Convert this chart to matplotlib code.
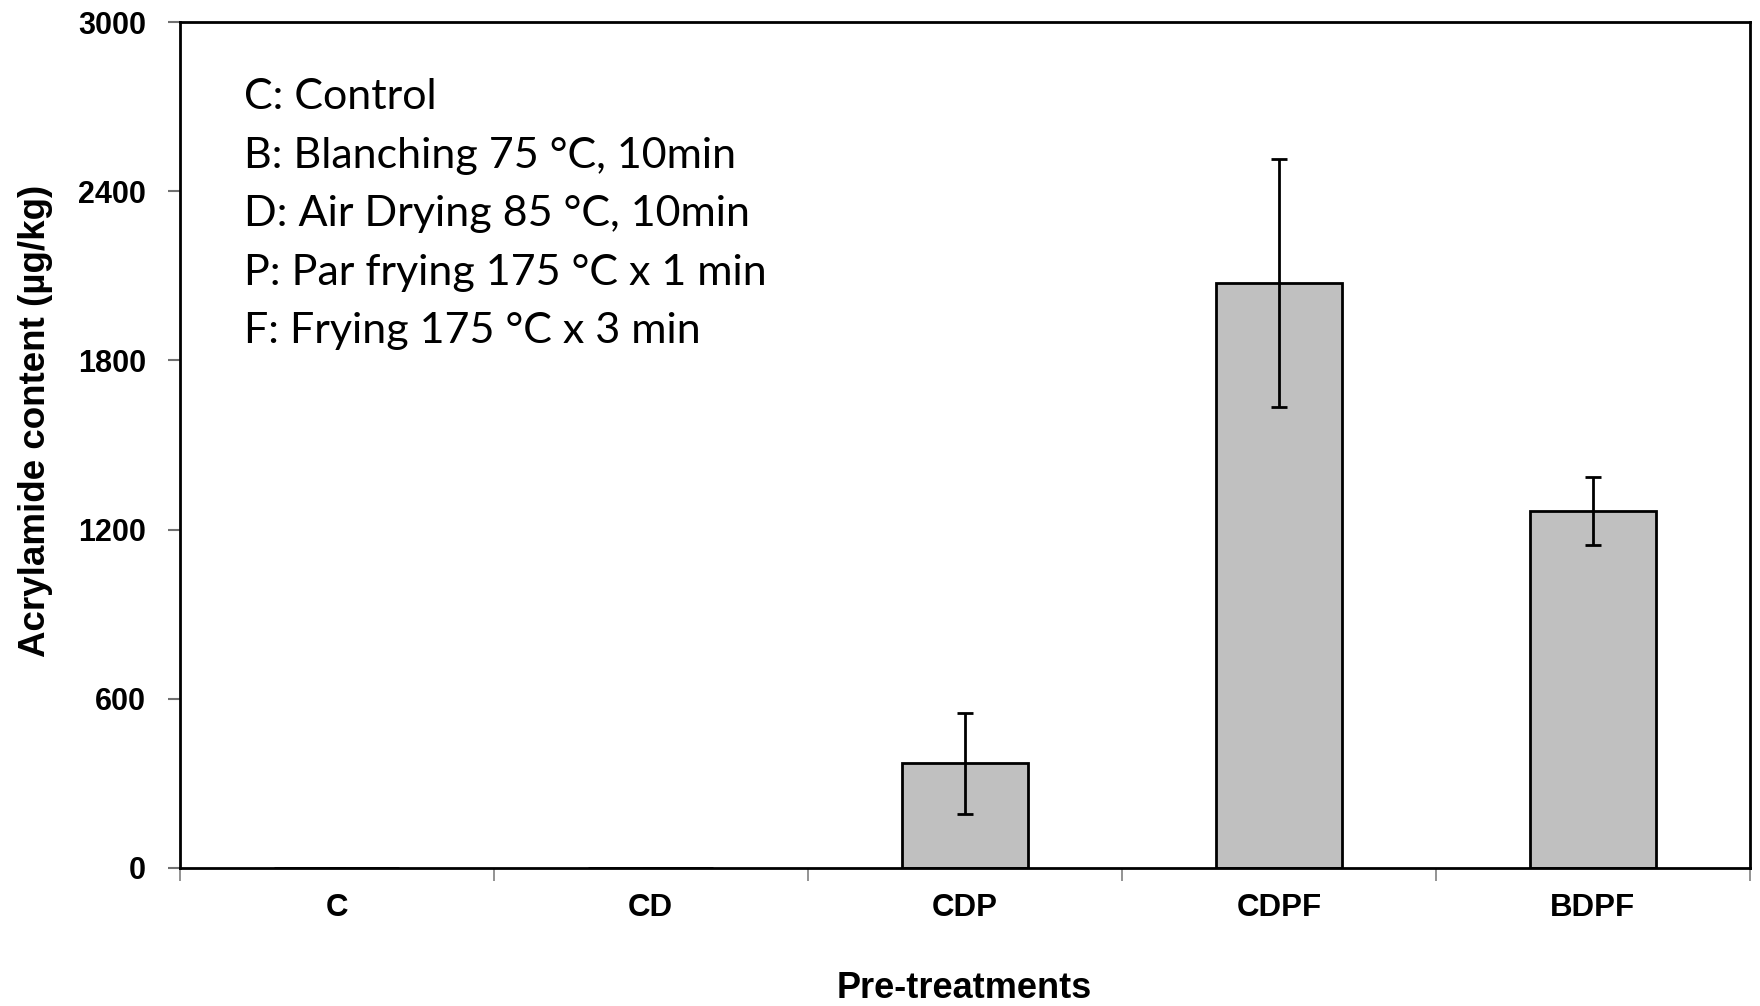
import numpy as np
import matplotlib.pyplot as plt

categories = ["C", "CD", "CDP", "CDPF", "BDPF"]
acrylamide = [0, 0, 370, 2075, 1265]
errors = [0, 0, 180, 440, 120]
yticks = [0, 600, 1200, 1800, 2400, 3000]
notes = [
    "C: Control",
    "B: Blanching 75 \u00b0C, 10min",
    "D: Air Drying 85 \u00b0C, 10min",
    "P: Par frying 175 \u00b0C x 1 min",
    "F: Frying 175 \u00b0C x 3 min",
]

fig = plt.figure(figsize=(17.6, 10.06), dpi=100)
ax = fig.add_axes([0.102, 0.1376, 0.8923, 0.8401])

x = np.arange(len(categories))
ax.bar(x, acrylamide, width=0.4, color="#c0c0c0", edgecolor="black", linewidth=2,
       yerr=errors, error_kw=dict(ecolor="black", elinewidth=2, capsize=6, capthick=2))

ax.set_xlim(-0.5, len(categories) - 0.5)
ax.set_ylim(0, 3000)
ax.set_yticks(yticks)
ax.set_yticklabels([str(v) for v in yticks], fontfamily="Liberation Sans",
                   fontweight="bold", fontsize=22)

# boundary ticks between groups, labels centred under the bars
ax.set_xticks(np.arange(-0.5, len(categories)), labels=[""] * (len(categories) + 1))
ax.set_xticks(x, labels=categories, minor=True)
ax.tick_params(axis="x", which="major", direction="out", length=9, width=1.2, color="#808080")
ax.tick_params(axis="x", which="minor", length=0, pad=18)
for lab in ax.get_xticklabels(minor=True):
    lab.set_fontfamily("Liberation Sans")
    lab.set_fontweight("bold")
    lab.set_fontsize(22.5)
ax.tick_params(axis="y", direction="out", length=9, width=1.5, pad=15, color="#707070")

for s in ax.spines.values():
    s.set_linewidth(2)

ax.set_ylabel("Acrylamide content (\u00b5g/kg)", fontfamily="Liberation Sans",
              fontweight="bold", fontsize=26.5, va="center")
ax.yaxis.set_label_coords(-0.0914, 0.528)
ax.set_xlabel("Pre-treatments", fontfamily="Liberation Sans", fontweight="bold",
              fontsize=26, va="center")
ax.xaxis.set_label_coords(0.5, -0.143)

for i, line in enumerate(notes):
    ax.text(0.0408, 0.8975 - i * 0.0692, line, transform=ax.transAxes,
            fontfamily="Lato", fontsize=31, va="baseline", ha="left")

fig.savefig("out.png", dpi=100)
